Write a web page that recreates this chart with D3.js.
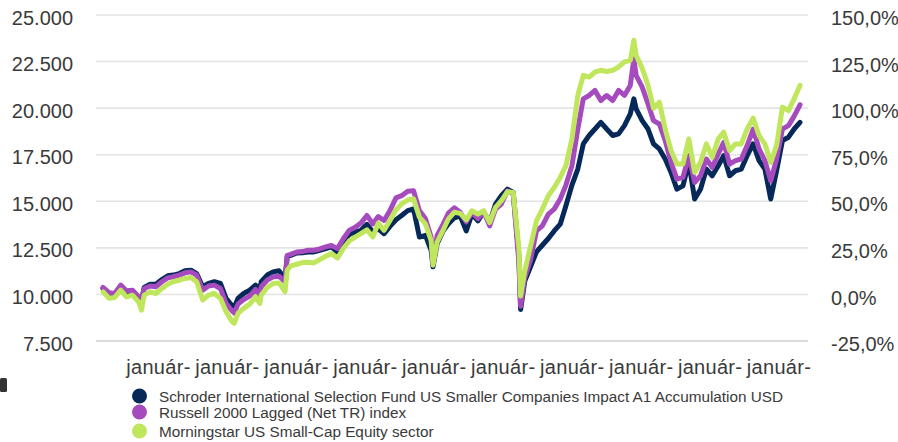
<!DOCTYPE html>
<html>
<head>
<meta charset="utf-8">
<script src="https://cdn.jsdelivr.net/npm/d3@7"></script>
<style>
  body { margin: 0; background: #fff; }
  text { font-family: "Liberation Sans", Arial, sans-serif; fill: #3a3a3a; }
</style>
</head>
<body>
<div id="chart"></div>
<script>
// Growth of 10.000 (left axis) and cumulative return (right axis)

const dates = [
  "2014-03-16","2014-04-17","2014-05-17","2014-06-18","2014-07-18","2014-08-19","2014-09-20","2014-10-06",
  "2014-10-20","2014-11-21","2014-12-21","2015-01-22","2015-02-22","2015-03-23","2015-04-24","2015-05-24",
  "2015-06-25","2015-07-25","2015-08-26","2015-09-26","2015-10-27","2015-11-28","2015-12-28","2016-01-29",
  "2016-02-09","2016-02-29","2016-03-30","2016-05-01","2016-06-01","2016-06-24","2016-07-01","2016-08-02",
  "2016-09-02","2016-10-03","2016-11-04","2016-11-16","2016-12-04","2017-01-05","2017-02-05","2017-03-06",
  "2017-04-06","2017-05-07","2017-06-08","2017-07-08","2017-08-09","2017-09-09","2017-10-10","2017-11-11",
  "2017-12-11","2018-01-12","2018-02-12","2018-03-13","2018-04-13","2018-05-14","2018-06-15","2018-07-15",
  "2018-08-16","2018-09-16","2018-10-17","2018-11-18","2018-12-18","2018-12-28","2019-01-19","2019-02-19",
  "2019-03-20","2019-04-20","2019-05-21","2019-06-22","2019-07-22","2019-08-23","2019-09-23","2019-10-24",
  "2019-11-24","2019-12-25","2020-01-26","2020-02-26","2020-03-27","2020-04-05","2020-04-27","2020-05-28",
  "2020-06-28","2020-07-29","2020-08-30","2020-09-30","2020-11-01","2020-12-01","2021-01-02","2021-02-02",
  "2021-03-03","2021-04-03","2021-05-04","2021-06-04","2021-07-05","2021-08-06","2021-09-06","2021-10-07",
  "2021-11-07","2021-11-26","2021-12-08","2022-01-09","2022-02-09","2022-03-10","2022-04-10","2022-05-11",
  "2022-06-11","2022-07-12","2022-08-13","2022-09-13","2022-10-14","2022-11-14","2022-12-15","2023-01-15",
  "2023-02-16","2023-03-17","2023-04-17","2023-05-18","2023-06-18","2023-07-19","2023-08-20","2023-09-20",
  "2023-10-21","2023-11-21","2023-12-22","2024-01-22","2024-02-23","2024-03-24","2024-04-24"
];

const fundValues = [
  10320,10050,10020,10450,10140,10200,9840,9650,
  10375,10550,10550,10800,11000,11040,11120,11270,
  11300,11120,10410,10590,10680,10590,9790,9390,
  9300,9790,10050,10230,10500,10250,10680,11040,
  11210,11270,10860,12050,12100,12230,12240,12280,
  12280,12370,12460,12550,12280,12810,13220,13350,
  13440,13760,13350,13520,13260,13650,14010,14240,
  14500,14590,13080,13170,12370,11480,12720,13400,
  13790,14110,14220,13410,14310,13950,14430,13820,
  14850,15300,15650,15470,12060,9190,10720,11490,
  12280,12640,13000,13410,13770,14760,15870,16730,
  18080,18530,18880,19240,18880,18530,18620,19060,
  19690,20500,19960,19330,18880,18080,17810,17270,
  16550,15650,15830,17090,15120,15650,16730,16370,
  16910,17450,16370,16640,16730,17450,18080,17180,
  16730,15120,16640,18260,18440,18880,19240
];

const indexValues = [
  10375,10090,10050,10500,10200,10230,9875,9700,
  10320,10450,10410,10680,10890,10950,11040,11160,
  11210,11040,10230,10450,10500,10320,9520,9110,
  9000,9480,9730,9910,10270,9950,10410,10770,
  10950,10980,10680,12100,12150,12280,12300,12370,
  12370,12440,12550,12630,12460,12990,13440,13610,
  13830,14240,13790,14180,13970,14500,15180,15300,
  15540,15570,14500,14060,13080,11660,13170,13760,
  14360,14650,14410,13900,14400,14070,14430,13680,
  14580,14850,15560,15390,11700,9370,10900,11880,
  13410,13680,14310,14580,15120,15870,16910,18880,
  20500,20680,20950,20410,20680,20410,20950,20680,
  21220,22650,21760,21130,20230,19330,19150,18260,
  17090,16190,16280,17450,16010,16370,17270,16820,
  17540,18170,17000,17180,17270,17990,18880,17810,
  17180,16100,17270,18880,19060,19570,20180
];

const sectorValues = [
  10140,9790,9840,10230,9875,9960,9610,9160,
  9960,10140,10050,10320,10550,10680,10770,10860,
  10910,10680,9700,9960,10050,9790,9070,8540,
  8450,8980,9250,9480,9875,9520,9960,10370,
  10590,10620,10150,11300,11530,11620,11710,11730,
  11690,11870,12050,12190,11950,12460,12870,13080,
  13260,13470,13080,13830,13440,13970,14540,14860,
  15070,15130,14150,13790,12900,11570,12810,13440,
  14060,14410,14350,14000,14490,14310,14490,13860,
  14670,15030,15510,15470,12500,9910,11260,12600,
  13950,14580,15300,15740,16280,16910,18350,20680,
  21760,21670,21940,22030,21970,22030,22210,22480,
  22570,23640,22830,22150,21220,20000,20320,18880,
  17720,17000,17000,18350,16550,17090,18080,17360,
  18350,18710,17720,18080,18080,18880,19460,18530,
  18080,17090,17990,20050,19870,20500,21220
];

const seriesNames = [
  "Schroder International Selection Fund US Smaller Companies Impact A1 Accumulation USD",
  "Russell 2000 Lagged (Net TR) index",
  "Morningstar US Small-Cap Equity sector"
];
const seriesColors = ["#07295a", "#a54bbd", "#bfe65c"];

const leftTicks = [7500, 10000, 12500, 15000, 17500, 20000, 22500, 25000];
const rightTicks = [-0.25, 0, 0.25, 0.5, 0.75, 1.0, 1.25, 1.5];
const xTickYears = [2015, 2016, 2017, 2018, 2019, 2020, 2021, 2022, 2023, 2024];
const xTickLabel = "január-";

// ------------ SET UP ------------ //
let width = 898;
let height = 442;
let plot = { left: 96, right: 808, top: 15, bottom: 341 };

let svg = d3.select("#chart").append("svg")
    .attr("width", width)
    .attr("height", height);

const parse = d3.timeParse("%Y-%m-%d");
const times = dates.map(parse);

// Hungarian style numbers, plain hyphen for negatives
const huLocale = d3.formatLocale({ decimal: ",", thousands: ".", grouping: [3], currency: ["", " Ft"], minus: "-" });
const fmtLeft = huLocale.format(",.0f");
const fmtRight = huLocale.format(".1%");

let x = d3.scaleTime()
    .domain(d3.extent(times))
    .range([plot.left + 7, plot.right - 8]);

let y = d3.scaleLinear()
    .domain([7500, 25000])
    .range([plot.bottom, plot.top]);

let yPct = d3.scaleLinear()
    .domain([-0.25, 1.5])
    .range([plot.bottom, plot.top]);

// gridlines
svg.append("g")
    .attr("class", "grid")
    .selectAll("line")
    .data(leftTicks)
    .enter().append("line")
    .attr("x1", plot.left)
    .attr("x2", plot.right)
    .attr("y1", d => y(d))
    .attr("y2", d => y(d))
    .attr("stroke", d => d === 7500 ? "#cfcfcf" : "#e3e3e3")
    .attr("stroke-width", 1.6);

// left axis
let leftAxis = svg.append("g")
    .attr("transform", "translate(73,0)")
    .call(d3.axisLeft(y).tickValues(leftTicks).tickFormat(fmtLeft).tickSize(0).tickPadding(0));
leftAxis.select(".domain").remove();
leftAxis.selectAll("text")
    .attr("font-size", "20px")
    .attr("dy", "0.45em")
    .style("font-family", "'Liberation Sans', Arial, sans-serif")
    .style("fill", "#3a3a3a");

// right axis
let rightAxis = svg.append("g")
    .attr("transform", "translate(831,0)")
    .call(d3.axisRight(yPct).tickValues(rightTicks).tickFormat(fmtRight).tickSize(0).tickPadding(0));
rightAxis.select(".domain").remove();
rightAxis.selectAll("text")
    .attr("font-size", "20px")
    .attr("dy", "0.48em")
    .style("font-family", "'Liberation Sans', Arial, sans-serif")
    .style("fill", "#3a3a3a");

// bottom axis
let bottomAxis = svg.append("g")
    .attr("transform", "translate(0,355)")
    .call(d3.axisBottom(x)
        .tickValues(xTickYears.map(yr => new Date(yr, 0, 1)))
        .tickFormat(() => xTickLabel)
        .tickSize(0).tickPadding(0));
bottomAxis.select(".domain").remove();
bottomAxis.selectAll("text")
    .attr("font-size", "20px")
    .attr("dy", "0.95em")
    .attr("letter-spacing", "0.3px")
    .style("font-family", "'Liberation Sans', Arial, sans-serif")
    .style("fill", "#3a3a3a");

// lines (fund first, sector on top)
let allSeries = [fundValues, indexValues, sectorValues];
let line = d3.line()
    .x((d, i) => x(times[i]))
    .y(d => y(d));

svg.append("g")
    .attr("class", "lines")
    .selectAll("path")
    .data(allSeries)
    .enter().append("path")
    .attr("d", d => line(d))
    .attr("fill", "none")
    .attr("stroke", (d, i) => seriesColors[i])
    .attr("stroke-width", 5)
    .attr("stroke-linejoin", "round")
    .attr("stroke-linecap", "round");

// legend
const legendRows = [396, 412, 431];
let legend = svg.append("g").attr("class", "legend");
legend.selectAll("circle")
    .data(seriesNames)
    .enter().append("circle")
    .attr("cx", 139.5)
    .attr("cy", (d, i) => legendRows[i])
    .attr("r", 7.5)
    .attr("fill", (d, i) => seriesColors[i]);
legend.selectAll("text")
    .data(seriesNames)
    .enter().append("text")
    .attr("x", 159)
    .attr("y", (d, i) => legendRows[i])
    .attr("dy", "0.36em")
    .attr("font-size", "15.3px")
    .text(d => d);

// stray mark at bottom left
svg.append("rect")
    .attr("x", 0).attr("y", 378)
    .attr("width", 7).attr("height", 14)
    .attr("rx", 1.5)
    .attr("fill", "#333");
</script>
</body>
</html>
